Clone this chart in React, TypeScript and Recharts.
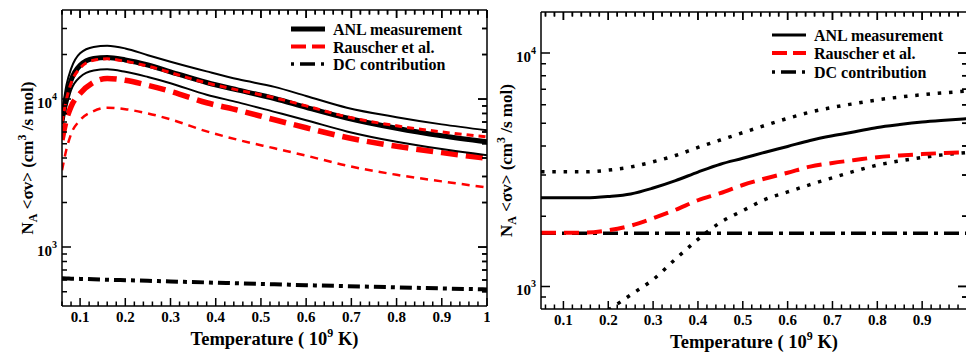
import { Label, Legend, Line, LineChart, XAxis, YAxis } from "recharts";

const FONT = "Liberation Serif";

// left panel: rate vs temperature, with upper/lower bands
const LEFT_T = [0.06, 0.07, 0.08, 0.1, 0.13, 0.16, 0.2, 0.25, 0.3, 0.38, 0.45, 0.53, 0.6, 0.69, 0.8, 0.9, 1.0];
const LEFT_ANL = [7100, 10500, 13400, 16900, 18800, 19100, 18400, 17000, 15300, 12950, 11500, 10100, 8800, 7450, 6350, 5650, 5140];
const LEFT_ANL_HIGH = [8000, 12500, 16000, 20400, 22500, 22900, 22000, 19800, 17900, 15400, 13600, 12100, 10500, 8750, 7550, 6750, 6150];
const LEFT_ANL_LOW = [6800, 9000, 11500, 14100, 15600, 15900, 15300, 14100, 12800, 10700, 9500, 8200, 7200, 6050, 5150, 4600, 4180];
const LEFT_RAUSCHER = [5300, 7300, 8900, 10900, 13000, 13800, 13400, 12400, 11300, 9450, 8400, 7250, 6400, 5500, 4800, 4350, 3980];
const LEFT_RAUSCHER_MID = [6900, 10000, 12800, 16200, 18300, 18700, 18000, 16700, 15100, 12850, 11500, 10200, 9000, 7600, 6600, 6000, 5550];
const LEFT_RAUSCHER_LOW = [3300, 4600, 5800, 7200, 8300, 8750, 8550, 8000, 7300, 6050, 5300, 4650, 4150, 3550, 3080, 2780, 2530];
const LEFT_DC = [615, 614, 612, 610, 606, 602, 598, 592, 586, 577, 569, 561, 553, 545, 535, 526, 518];

// right panel
const RIGHT_T = [0.05, 0.1, 0.15, 0.2, 0.25, 0.3, 0.35, 0.4, 0.45, 0.5, 0.55, 0.6, 0.65, 0.7, 0.75, 0.8, 0.85, 0.9, 0.95, 1.0];
const RIGHT_ANL = [2400, 2400, 2400, 2430, 2490, 2640, 2840, 3090, 3340, 3540, 3760, 3980, 4220, 4420, 4600, 4800, 4940, 5060, 5150, 5230];
const RIGHT_HIGH = [3100, 3100, 3100, 3150, 3250, 3420, 3640, 3940, 4240, 4560, 4900, 5250, 5580, 5850, 6080, 6300, 6480, 6630, 6760, 6870];
const RIGHT_RAUSCHER = [1700, 1700, 1700, 1740, 1820, 1960, 2130, 2340, 2510, 2720, 2900, 3070, 3260, 3380, 3480, 3580, 3640, 3690, 3730, 3750];
const RIGHT_LOW = [null, null, null, 790, 920, 1070, 1310, 1590, 1880, 2110, 2360, 2540, 2730, 2920, 3120, 3310, 3450, 3570, 3670, 3750];
const RIGHT_DC = [1690, 1690, 1690, 1690, 1690, 1690, 1690, 1690, 1690, 1690, 1690, 1690, 1690, 1690, 1690, 1690, 1690, 1690, 1690, 1690];

const X_TICKS = [0.06, 0.08, 0.1, 0.12, 0.14, 0.16, 0.18, 0.2, 0.22, 0.24, 0.26, 0.28, 0.3, 0.32, 0.34, 0.36, 0.38, 0.4, 0.42, 0.44, 0.46, 0.48, 0.5, 0.52, 0.54, 0.56, 0.58, 0.6, 0.62, 0.64, 0.66, 0.68, 0.7, 0.72, 0.74, 0.76, 0.78, 0.8, 0.82, 0.84, 0.86, 0.88, 0.9, 0.92, 0.94, 0.96, 0.98, 1.0];
const LEFT_Y_TICKS = [500, 600, 700, 800, 900, 1000, 2000, 3000, 4000, 5000, 6000, 7000, 8000, 9000, 10000, 20000, 30000];
const RIGHT_Y_TICKS = [900, 1000, 2000, 3000, 4000, 5000, 6000, 7000, 8000, 9000, 10000];

const LEGEND_NAMES = ["ANL measurement", "Rauscher et al.", "DC contribution"];

const leftData = LEFT_T.map((t, i) => ({
	t,
	anl: LEFT_ANL[i],
	high: LEFT_ANL_HIGH[i],
	low: LEFT_ANL_LOW[i],
	rau: LEFT_RAUSCHER[i],
	rauMid: LEFT_RAUSCHER_MID[i],
	rauLow: LEFT_RAUSCHER_LOW[i],
	dc: LEFT_DC[i],
}));

const rightData = RIGHT_T.map((t, i) => ({
	t,
	anl: RIGHT_ANL[i],
	high: RIGHT_HIGH[i],
	rau: RIGHT_RAUSCHER[i],
	low: RIGHT_LOW[i],
	dc: RIGHT_DC[i],
}));

const isMajorX = (v: number) => Math.abs(v * 10 - Math.round(v * 10)) < 1e-6;
const isMajorY = (v: number) => Math.abs(Math.log10(v) - Math.round(Math.log10(v))) < 1e-6;
const fmtX = (v: number) => (Math.abs(v - 1) < 1e-6 ? "1" : v.toFixed(1));
const textStyle = { fontFamily: FONT, fontWeight: "bold" as const };
const TICK_W = 1.5;

// bottom tick (+ mirrored one on the top frame)
const bottomTick = (plotTop: number, maxLabel: number) => (props: any) => {
	const { x, y, payload } = props;
	const major = isMajorX(payload.value);
	const len = major ? 8 : 4.5;
	const showLabel = major && payload.value <= maxLabel + 1e-6;
	return (
		<g>
			<path d={`M${x},${y}V${y - len}M${x},${plotTop}V${plotTop + len}`} stroke="#000" strokeWidth={TICK_W} fill="none" />
			{showLabel && (
				<text x={x} y={y + 16} textAnchor="middle" fontSize={15} style={textStyle} fill="#000">
					{fmtX(payload.value)}
				</text>
			)}
		</g>
	);
};

const topTick = (props: any) => {
	const { x, y, payload } = props;
	const major = isMajorX(payload.value);
	return <path d={`M${x},${y}V${y + (major ? 8 : 4.5)}`} stroke="#000" strokeWidth={TICK_W} fill="none" />;
};

// left tick (+ mirrored one on the right frame)
const leftTick = (plotRight: number) => (props: any) => {
	const { x, y, payload } = props;
	const major = isMajorY(payload.value);
	const len = major ? 9 : 5;
	return (
		<g>
			<path d={`M${x},${y}H${x + len}M${plotRight},${y}H${plotRight - len}`} stroke="#000" strokeWidth={TICK_W} fill="none" />
			{major && (
				<text x={x - 5} y={y + 9} textAnchor="end" fontSize={15} style={textStyle} fill="#000">
					10
					<tspan dy={-8} fontSize={10}>
						{Math.round(Math.log10(payload.value))}
					</tspan>
				</text>
			)}
		</g>
	);
};

const rightTick = (props: any) => {
	const { x, y, payload } = props;
	const major = isMajorY(payload.value);
	return <path d={`M${x},${y}H${x - (major ? 9 : 5)}`} stroke="#000" strokeWidth={TICK_W} fill="none" />;
};

function YTitle(props: any) {
	const { x, y, width, height } = props.viewBox;
	const cx = x + width - 29;
	const cy = y + height / 2;
	return (
		<text x={cx} y={cy} transform={`rotate(-90 ${cx} ${cy})`} textAnchor="middle" fontSize={17} style={textStyle} fill="#000">
			N
			<tspan dy={4} fontSize={12}>A</tspan>
			<tspan dy={-4}>{" <σv> (cm"}</tspan>
			<tspan dy={-7} fontSize={12}>3</tspan>
			<tspan dy={7}>{" /s mol)"}</tspan>
		</text>
	);
}

function XTitle(props: any) {
	const { x, y, width } = props.viewBox;
	return (
		<text x={x + width / 2} y={y + 39} textAnchor="middle" fontSize={18.5} style={textStyle} fill="#000">
			{"Temperature ( 10"}
			<tspan dy={-8} fontSize={12}>9</tspan>
			<tspan dy={8}>{" K)"}</tspan>
		</text>
	);
}

function LegendBox({ thick, rows }: { thick: boolean; rows: number[] }) {
	return (
		<svg width={200} height={72} style={{ display: "block" }}>
			<line x1={6} x2={40} y1={rows[0]} y2={rows[0]} stroke="#000" strokeWidth={thick ? 5 : 3} />
			<line x1={6} x2={40} y1={rows[1]} y2={rows[1]} stroke="#ff0000" strokeWidth={4} strokeDasharray="15 6" />
			<line x1={6} x2={40} y1={rows[2]} y2={rows[2]} stroke="#000" strokeWidth={3.5} strokeDasharray="3 6 15 6 3" />
			{LEGEND_NAMES.map((name, i) => (
				<text key={name} x={48} y={rows[i] + 6} fontSize={16} style={textStyle} fill="#000">
					{name}
				</text>
			))}
		</svg>
	);
}

const axisLine = { stroke: "#000", strokeWidth: 1.5 };
const frameAxis = { type: "number" as const, allowDataOverflow: true, interval: 0, tickSize: 0, tickMargin: 0, tickLine: false, axisLine };

export default function App() {
	return (
		<div style={{ position: "absolute", left: 0, top: 0, width: 966, height: 354, overflow: "hidden", background: "#fff" }}>
			<div style={{ position: "absolute", left: 0, top: 0 }}>
				<LineChart width={490} height={354} data={leftData} margin={{ top: 9, right: 2, bottom: 47, left: 61 }}>
					<XAxis {...frameAxis} dataKey="t" domain={[0.06, 1]} ticks={X_TICKS} height={1} tick={bottomTick(10, 1)}>
						<Label content={<XTitle />} />
					</XAxis>
					<XAxis {...frameAxis} xAxisId="top" dataKey="t" orientation="top" domain={[0.06, 1]} ticks={X_TICKS} height={1} tick={topTick} />
					<YAxis {...frameAxis} scale="log" domain={[400, 40000]} ticks={LEFT_Y_TICKS} width={1} tick={leftTick(487)}>
						<Label content={<YTitle />} />
					</YAxis>
					<YAxis {...frameAxis} yAxisId="r" dataKey="anl" orientation="right" scale="log" domain={[400, 40000]} ticks={LEFT_Y_TICKS} width={1} tick={rightTick} />
					<Legend layout="horizontal" verticalAlign="middle" align="center" wrapperStyle={{ left: 285, top: 15, width: 200 }} content={() => <LegendBox thick rows={[14, 31.5, 49]} />} />
					<Line dataKey="rauLow" type="monotone" stroke="#ff0000" strokeWidth={2.5} strokeDasharray="8 6" dot={false} isAnimationActive={false} />
					<Line dataKey="rau" type="monotone" stroke="#ff0000" strokeWidth={5.5} strokeDasharray="17 8" dot={false} isAnimationActive={false} />
					<Line dataKey="high" type="monotone" stroke="#000" strokeWidth={2} dot={false} isAnimationActive={false} />
					<Line dataKey="low" type="monotone" stroke="#000" strokeWidth={2} dot={false} isAnimationActive={false} />
					<Line dataKey="anl" type="monotone" stroke="#000" strokeWidth={5} dot={false} isAnimationActive={false} />
					<Line dataKey="rauMid" type="monotone" stroke="#ff0000" strokeWidth={3} strokeDasharray="7 5" dot={false} isAnimationActive={false} />
					<Line dataKey="dc" type="monotone" stroke="#000" strokeWidth={4} strokeDasharray="12 5 4 5" dot={false} isAnimationActive={false} />
				</LineChart>
			</div>
			<div style={{ position: "absolute", left: 480, top: 0 }}>
				<LineChart width={488} height={354} data={rightData} margin={{ top: 11, right: 0, bottom: 44, left: 60 }}>
					<XAxis {...frameAxis} dataKey="t" domain={[0.05, 1]} ticks={X_TICKS} height={1} tick={bottomTick(12, 0.9)}>
						<Label content={<XTitle />} />
					</XAxis>
					<XAxis {...frameAxis} xAxisId="top" dataKey="t" orientation="top" domain={[0.05, 1]} ticks={X_TICKS} height={1} tick={topTick} />
					<YAxis {...frameAxis} scale="log" domain={[800, 15000]} ticks={RIGHT_Y_TICKS} width={1} tick={leftTick(487)}>
						<Label content={<YTitle />} />
					</YAxis>
					<YAxis {...frameAxis} yAxisId="r" dataKey="anl" orientation="right" scale="log" domain={[800, 15000]} ticks={RIGHT_Y_TICKS} width={1} tick={rightTick} />
					<Legend layout="horizontal" verticalAlign="middle" align="center" wrapperStyle={{ left: 286, top: 20, width: 200 }} content={() => <LegendBox thick={false} rows={[15, 33, 52]} />} />
					<Line dataKey="dc" type="monotone" stroke="#000" strokeWidth={3.5} strokeDasharray="15 6 4 6" dot={false} isAnimationActive={false} />
					<Line dataKey="high" type="monotone" stroke="#000" strokeWidth={3.5} strokeDasharray="3.5 7.8" dot={false} isAnimationActive={false} />
					<Line dataKey="low" type="monotone" stroke="#000" strokeWidth={3.5} strokeDasharray="3.5 7.8" dot={false} isAnimationActive={false} />
					<Line dataKey="anl" type="monotone" stroke="#000" strokeWidth={3} dot={false} isAnimationActive={false} />
					<Line dataKey="rau" type="monotone" stroke="#ff0000" strokeWidth={4} strokeDasharray="15 8" dot={false} isAnimationActive={false} />
				</LineChart>
			</div>
		</div>
	);
}
